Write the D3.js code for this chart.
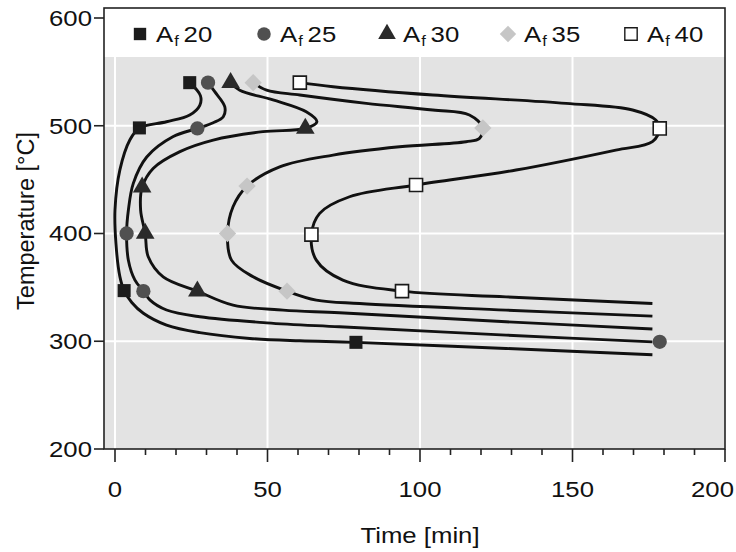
<!DOCTYPE html>
<html>
<head>
  <meta charset="UTF-8">
  <title>Temperature vs Time</title>
  <style>
    body { margin: 0; background: #fff; }
    text { font-family: "Liberation Sans", Arial, sans-serif; fill: #111; }
    .curve { fill: none; stroke: #111; stroke-width: 2.9px; }
    .grid line { stroke: #fff; stroke-width: 2px; }
  </style>
</head>
<body>
  <svg id="chart" width="736" height="552"></svg>

  <script src="https://cdn.jsdelivr.net/npm/d3@7/dist/d3.min.js"></script>
  <script>
    // series labels (A_f values)
    const seriesNames = ["20", "25", "30", "35", "40"];

    // tick values
    const xTicks = [0, 50, 100, 150, 200];
    const yTicks = [200, 300, 400, 500, 600];

    // markers: [time (min), temperature (°C)]
    const af20Markers = [[24.5, 540], [8, 498], [3, 347], [79, 299]];
    const af25Markers = [[30.5, 540], [27, 497.5], [3.8, 400], [9.3, 346.5], [178.6, 299.5]];
    const af30Markers = [[37.9, 540], [62.4, 497.5], [8.9, 443], [9.9, 400], [27, 346.5]];
    const af35Markers = [[45.3, 540], [120.6, 498], [43.3, 444], [36.9, 400], [56.4, 346.5]];
    const af40Markers = [[60.6, 540], [178.6, 497.5], [98.7, 445], [64.4, 399], [94.1, 346.5]];

    // curve traces, top end to right end
    const af20Curve = [[24.5, 540], [28, 528], [27.8, 519], [24.5, 510], [16.9, 503.7], [8, 498],
      [4.9, 487], [1.6, 459], [0, 422], [0.3, 391], [1.6, 360], [3, 347], [5.5, 336], [9.3, 326],
      [16.9, 315], [27.8, 308], [44.2, 302.6], [60.6, 300.4], [79, 299], [128.2, 293.3],
      [176.2, 287.5]];
    const af25Curve = [[30.5, 540], [32.7, 531.6], [36, 517.6], [35.5, 508.4], [32.2, 502.8],
      [27, 497.5], [19.1, 490], [10.4, 471], [6, 446.5], [4.4, 422], [3.8, 400], [4.4, 375],
      [6.5, 357], [9.3, 346.5], [11.5, 338.2], [16.9, 329], [27.8, 322.7], [49.7, 317.1],
      [73.6, 313.4], [128.2, 305.7], [176.2, 299.4]];
    const af30Curve = [[37.9, 540], [40.9, 533], [51.8, 524], [62.7, 513], [66.2, 503.7], [62.4, 497.5],
      [48.5, 494.5], [32.2, 486.7], [21.3, 476], [12.5, 460.4], [8.9, 443], [8.4, 421.7],
      [9.9, 400], [10.9, 378.4], [15.8, 359.8], [27, 346.5], [38.7, 333.5], [55.1, 328.9],
      [73.6, 326.4], [128.2, 318.1], [176.2, 311.4]];
    const af35Curve = [[45.3, 540], [49.7, 533], [60.6, 528.5], [82.4, 520.8], [104.2, 514.6],
      [116.2, 510], [120.6, 498], [119.5, 488.3], [115.1, 485.2], [93.3, 480.5], [71.5, 472.8],
      [54, 461.9], [43.3, 444], [38.7, 424.8], [36.9, 400], [38.2, 375.3], [45.3, 359.8],
      [56.4, 346.5], [66, 338.2], [80.2, 335], [128.2, 328.9], [176.2, 323.3]];
    const af40Curve = [[60.6, 540], [71.5, 536.2], [104.2, 528.5], [147.9, 520.8], [169.7, 514.6],
      [177.3, 505.3], [178.6, 497.5], [176.2, 485.2], [164.2, 477.4], [131.5, 458.9], [98.7, 445],
      [76.9, 434.1], [67.1, 418.7], [64.4, 399], [66, 375.3], [74.7, 356.7], [94.1, 346.5],
      [128.2, 341.2], [176.2, 335.1]];

    const svg = d3.select("#chart");

    const frameLeft = 104, frameRight = 725, frameTop = 8, frameBottom = 449, panelTop = 57;
    const stretch = 1.17;   // the source figure's lettering is a bit wide

    const x = d3.scaleLinear().domain([0, 200]).range([115, 725]);
    const y = d3.scaleLinear().domain([200, 600]).range([449, 18]);

    // panel
    svg.append("rect")
      .attr("x", frameLeft).attr("y", frameTop)
      .attr("width", frameRight - frameLeft).attr("height", frameBottom - frameTop)
      .attr("fill", "#fff");
    svg.append("rect")
      .attr("x", frameLeft).attr("y", panelTop)
      .attr("width", frameRight - frameLeft).attr("height", frameBottom - panelTop)
      .attr("fill", "#e3e3e3");

    // grid
    const grid = svg.append("g").attr("class", "grid");
    grid.selectAll(".gx")
      .data(xTicks.filter(d => d < 200))
      .enter().append("line")
      .attr("x1", d => x(d)).attr("x2", d => x(d))
      .attr("y1", panelTop).attr("y2", frameBottom);
    grid.selectAll(".gy")
      .data(yTicks.filter(d => d > 200 && d < 600))
      .enter().append("line")
      .attr("x1", frameLeft).attr("x2", frameRight)
      .attr("y1", d => y(d)).attr("y2", d => y(d));

    // curves
    const line = d3.line()
      .x(d => x(d[0]))
      .y(d => y(d[1]))
      .curve(d3.curveCatmullRom.alpha(0.5));

    const curves = [af20Curve, af25Curve, af30Curve, af35Curve, af40Curve];
    svg.append("g").selectAll("path")
      .data(curves)
      .enter().append("path")
      .attr("class", "curve")
      .attr("d", line);

    // marker styles
    const styles = [
      { shape: d3.symbolSquare, size: 170, fill: "#1c1c1c", stroke: "none", rotate: 0 },
      { shape: d3.symbolCircle, size: 160, fill: "#505050", stroke: "none", rotate: 0 },
      { shape: d3.symbolTriangle, size: 150, fill: "#2a2a2a", stroke: "none", rotate: 0 },
      { shape: d3.symbolSquare, size: 150, fill: "#c6c6c6", stroke: "none", rotate: 45 },
      { shape: d3.symbolSquare, size: 170, fill: "#fff", stroke: "#1a1a1a", rotate: 0 }
    ];
    const markers = [af20Markers, af25Markers, af30Markers, af35Markers, af40Markers];

    markers.forEach((pts, i) => {
      const s = styles[i];
      svg.append("g").selectAll("path")
        .data(pts)
        .enter().append("path")
        .attr("d", d3.symbol().type(s.shape).size(s.size))
        .attr("transform", d => `translate(${x(d[0])},${y(d[1])}) rotate(${s.rotate})`)
        .attr("fill", s.fill)
        .attr("stroke", s.stroke)
        .attr("stroke-width", 1.6);
    });

    // frame
    svg.append("rect")
      .attr("x", frameLeft).attr("y", frameTop)
      .attr("width", frameRight - frameLeft).attr("height", frameBottom - frameTop)
      .attr("fill", "none")
      .attr("stroke", "#222")
      .attr("stroke-width", 1.6);

    // axes
    const yAxis = svg.append("g");
    yAxis.selectAll("line")
      .data(yTicks)
      .enter().append("line")
      .attr("x1", frameLeft - 10).attr("x2", frameLeft)
      .attr("y1", d => y(d)).attr("y2", d => y(d))
      .attr("stroke", "#222").attr("stroke-width", 1.6);
    yAxis.selectAll("text")
      .data(yTicks)
      .enter().append("text")
      .attr("transform", d => `translate(${frameLeft - 12},${y(d)}) scale(${stretch},1)`)
      .attr("dy", "0.36em")
      .attr("text-anchor", "end")
      .attr("font-size", 22)
      .text(d => d);

    const xAxis = svg.append("g");
    xAxis.selectAll("line.minor")
      .data(d3.range(0, 201, 10).filter(d => d % 50 !== 0))
      .enter().append("line")
      .attr("x1", d => x(d)).attr("x2", d => x(d))
      .attr("y1", frameBottom).attr("y2", frameBottom + 6)
      .attr("stroke", "#222").attr("stroke-width", 1.6);
    xAxis.selectAll("line.major")
      .data(xTicks)
      .enter().append("line")
      .attr("x1", d => x(d)).attr("x2", d => x(d))
      .attr("y1", frameBottom).attr("y2", frameBottom + 13)
      .attr("stroke", "#222").attr("stroke-width", 1.6);
    // last label is pushed in so it stays on the page
    xAxis.selectAll("text")
      .data(xTicks)
      .enter().append("text")
      .attr("transform", d => `translate(${d === 200 ? 734 : x(d)},497) scale(${stretch},1)`)
      .attr("text-anchor", d => d === 200 ? "end" : "middle")
      .attr("font-size", 22)
      .text(d => d);

    // axis titles
    svg.append("text")
      .attr("transform", `translate(420,543) scale(${stretch},1)`)
      .attr("text-anchor", "middle")
      .attr("font-size", 22)
      .text("Time [min]");
    svg.append("text")
      .attr("transform", "translate(34,221) rotate(-90)")
      .attr("text-anchor", "middle")
      .attr("font-size", 23.5)
      .text("Temperature [°C]");

    // legend
    const legendX = [140, 264, 387, 508, 631];
    const legend = svg.append("g");
    seriesNames.forEach((name, i) => {
      const s = styles[i];
      legend.append("path")
        .attr("d", d3.symbol().type(s.shape).size(s.size * 0.9))
        .attr("transform", `translate(${legendX[i]},34) rotate(${s.rotate})`)
        .attr("fill", s.fill)
        .attr("stroke", s.stroke)
        .attr("stroke-width", 1.4);
      const t = legend.append("text")
        .attr("transform", `translate(${legendX[i] + 16},42) scale(${stretch},1)`)
        .attr("font-size", 22);
      t.append("tspan").text("A");
      t.append("tspan").attr("font-size", 14).attr("dy", 4).attr("dx", 1).text("f");
      t.append("tspan").attr("dy", -4).attr("dx", 4).text(name);
    });
  </script>
</body>
</html>
